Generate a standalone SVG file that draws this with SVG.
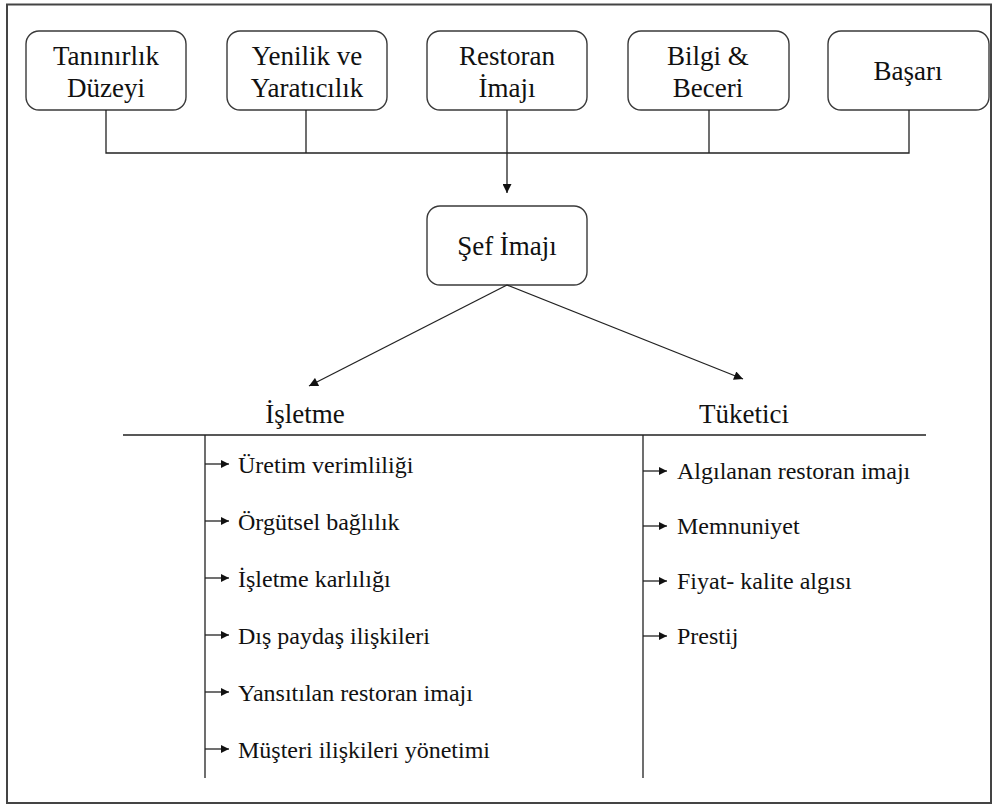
<svg xmlns="http://www.w3.org/2000/svg" width="993" height="805" viewBox="0 0 993 805">
<style>
.box{fill:#fff;stroke:#3a3a3a;stroke-width:1.4}
.ln{fill:none;stroke:#222;stroke-width:1.3}
.t{font-size:27px;fill:#111;text-anchor:middle}
.it{font-size:24px;fill:#111}
</style>
<defs>
<marker id="ah" viewBox="0 0 10 10" refX="10" refY="5" markerWidth="10" markerHeight="9" markerUnits="userSpaceOnUse" orient="auto"><path d="M0,0L10,5L0,10z" fill="#111"/></marker>
<marker id="sa" viewBox="0 0 10 10" refX="10" refY="5" markerWidth="9" markerHeight="8" markerUnits="userSpaceOnUse" orient="auto"><path d="M0,0L10,5L0,10z" fill="#111"/></marker>
</defs>
<rect x="7" y="4.5" width="984" height="798.5" fill="#fff" stroke="#444" stroke-width="2"/>
<g font-family="Liberation Serif, Tinos, DejaVu Serif, serif">
<g id="n1"><rect class="box" x="26" y="31" width="160" height="79" rx="13"/><text class="t" x="106" y="65">Tanınırlık</text><text class="t" x="106" y="97">Düzeyi</text></g>
<g id="n2"><rect class="box" x="227" y="31" width="160" height="79" rx="13"/><text class="t" x="307" y="65">Yenilik ve</text><text class="t" x="307" y="97">Yaratıcılık</text></g>
<g id="n3"><rect class="box" x="427" y="31" width="160" height="79" rx="13"/><text class="t" x="507" y="65">Restoran</text><text class="t" x="507" y="97">İmajı</text></g>
<g id="n4"><rect class="box" x="628" y="31" width="161" height="79" rx="13"/><text class="t" x="708" y="65">Bilgi &amp;</text><text class="t" x="708" y="97">Beceri</text></g>
<g id="n5"><rect class="box" x="828" y="31" width="161" height="79" rx="13"/><text class="t" x="908" y="80">Başarı</text></g>
<g id="n6"><rect class="box" x="427" y="206" width="160" height="79" rx="13"/><text class="t" x="507" y="255">Şef İmajı</text></g>
<g id="h1"><text class="t" x="305" y="423">İşletme</text></g>
<g id="h2"><text class="t" x="744" y="423">Tüketici</text></g>
<g id="left-items">
<text class="it" x="238" y="473">Üretim verimliliği</text>
<text class="it" x="238" y="530">Örgütsel bağlılık</text>
<text class="it" x="238" y="587">İşletme karlılığı</text>
<text class="it" x="238" y="644">Dış paydaş ilişkileri</text>
<text class="it" x="238" y="701">Yansıtılan restoran imajı</text>
<text class="it" x="238" y="758">Müşteri ilişkileri yönetimi</text>
</g>
<g id="right-items">
<text class="it" x="677" y="479">Algılanan restoran imajı</text>
<text class="it" x="677" y="534">Memnuniyet</text>
<text class="it" x="677" y="589">Fiyat- kalite algısı</text>
<text class="it" x="677" y="644">Prestij</text>
</g>
</g>
<g id="connectors">
<path class="ln" d="M106,110V153H909V110M306,110V153M709,110V153"/>
<path class="ln" d="M507,110V193" marker-end="url(#ah)"/>
<path class="ln" d="M507,285L309,386" marker-end="url(#ah)"/>
<path class="ln" d="M507,285L743,379" marker-end="url(#ah)"/>
<path class="ln" d="M123,435H926M205,435V778M643,435V778"/>
<path class="ln" d="M205,464H229" marker-end="url(#sa)"/>
<path class="ln" d="M205,521H229" marker-end="url(#sa)"/>
<path class="ln" d="M205,578H229" marker-end="url(#sa)"/>
<path class="ln" d="M205,635H229" marker-end="url(#sa)"/>
<path class="ln" d="M205,692H229" marker-end="url(#sa)"/>
<path class="ln" d="M205,749H229" marker-end="url(#sa)"/>
<path class="ln" d="M643,471H667" marker-end="url(#sa)"/>
<path class="ln" d="M643,526H667" marker-end="url(#sa)"/>
<path class="ln" d="M643,581H667" marker-end="url(#sa)"/>
<path class="ln" d="M643,636H667" marker-end="url(#sa)"/>
</g>
</svg>
